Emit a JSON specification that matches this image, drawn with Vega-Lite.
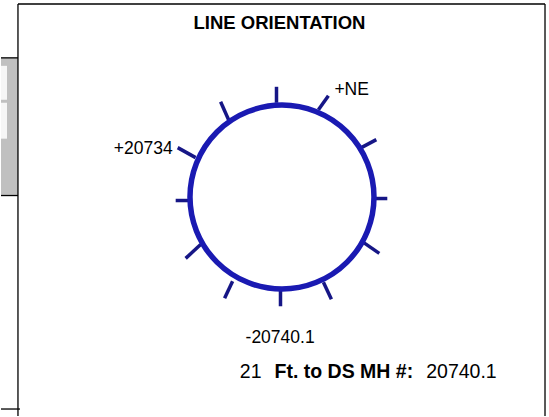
{
  "$schema": "https://vega.github.io/schema/vega-lite/v6.json",
  "width": 549,
  "height": 417,
  "padding": 0,
  "autosize": {"type": "fit", "contains": "padding"},
  "background": "white",
  "config": {"view": {"stroke": null}, "text": {"font": "Liberation Sans"}},
  "datasets": {
    "frame": [
      {"part": "left", "x": 17, "y": 4, "x2": 17, "y2": 417},
      {"part": "top", "x": 17, "y": 4, "x2": 545, "y2": 4},
      {"part": "right", "x": 545, "y": 4, "x2": 545, "y2": 417},
      {"part": "bottom stub", "x": 0, "y": 410, "x2": 19, "y2": 410},
      {"part": "panel top", "x": 0, "y": 58, "x2": 17, "y2": 58},
      {"part": "panel bottom", "x": 0, "y": 196, "x2": 17, "y2": 196}
    ],
    "panel": [{"x": 0, "x2": 17, "y": 58, "y2": 196}],
    "cells": [
      {"x": 0, "x2": 6, "y": 66, "y2": 100},
      {"x": 0, "x2": 6, "y": 103, "y2": 139}
    ],
    "ring": [{"cx": 281.5, "cy": 197.5}],
    "ticks": [
      {"angle": 0, "x": 276, "y": 103, "x2": 276, "y2": 87},
      {"angle": 30, "x": 318, "y": 110, "x2": 328, "y2": 96},
      {"angle": 60, "x": 361, "y": 148, "x2": 376, "y2": 140},
      {"angle": 90, "x": 373, "y": 199, "x2": 387, "y2": 199},
      {"angle": 120, "x": 363, "y": 243, "x2": 379, "y2": 254},
      {"angle": 150, "x": 323, "y": 283, "x2": 331, "y2": 300},
      {"angle": 180, "x": 280, "y": 290, "x2": 280, "y2": 307},
      {"angle": 210, "x": 232, "y": 282, "x2": 224, "y2": 299},
      {"angle": 240, "x": 200, "y": 245, "x2": 185, "y2": 259},
      {"angle": 270, "x": 190, "y": 201, "x2": 175, "y2": 201},
      {"angle": 300, "x": 195, "y": 158, "x2": 177, "y2": 148},
      {"angle": 330, "x": 228, "y": 120, "x2": 220, "y2": 102}
    ],
    "title": [{"text": "LINE ORIENTATION", "x": 279, "y": 29}],
    "leftLabels": [
      {"text": "+NE", "x": 334, "y": 95},
      {"text": "-20740.1", "x": 245, "y": 344}
    ],
    "rightLabels": [{"text": "+20734", "x": 172, "y": 154}],
    "footerNumber": [{"text": "21", "x": 261, "y": 379}],
    "footerValue": [{"text": "20740.1", "x": 426, "y": 379}],
    "footerBold": [{"text": "Ft. to DS MH #:", "x": 274, "y": 379}]
  },
  "layer": [
    {
      "data": {"name": "panel"},
      "mark": {"type": "rect", "color": "#c0c0c0"},
      "encoding": {
        "x": {"field": "x", "type": "quantitative", "scale": {"domain": [0, 549], "nice": false, "zero": false}, "axis": null},
        "x2": {"field": "x2"},
        "y": {"field": "y", "type": "quantitative", "scale": {"domain": [0, 417], "nice": false, "zero": false, "reverse": true}, "axis": null},
        "y2": {"field": "y2"}
      }
    },
    {
      "data": {"name": "cells"},
      "mark": {"type": "rect", "color": "#f6f6f6"},
      "encoding": {
        "x": {"field": "x", "type": "quantitative"},
        "x2": {"field": "x2"},
        "y": {"field": "y", "type": "quantitative"},
        "y2": {"field": "y2"}
      }
    },
    {
      "data": {"name": "frame"},
      "mark": {"type": "rule", "color": "black", "strokeWidth": 1.3},
      "encoding": {
        "x": {"field": "x", "type": "quantitative"},
        "x2": {"field": "x2"},
        "y": {"field": "y", "type": "quantitative"},
        "y2": {"field": "y2"}
      }
    },
    {
      "data": {"name": "ticks"},
      "mark": {"type": "rule", "color": "#161686", "strokeWidth": 3.5},
      "encoding": {
        "x": {"field": "x", "type": "quantitative"},
        "x2": {"field": "x2"},
        "y": {"field": "y", "type": "quantitative"},
        "y2": {"field": "y2"}
      }
    },
    {
      "data": {"name": "ring"},
      "mark": {"type": "point", "shape": "circle", "filled": false, "size": 33856, "stroke": "#1a1ab2", "strokeWidth": 5.5, "opacity": 1},
      "encoding": {
        "x": {"field": "cx", "type": "quantitative"},
        "y": {"field": "cy", "type": "quantitative"}
      }
    },
    {
      "data": {"name": "title"},
      "mark": {"type": "text", "fontSize": 18.5, "fontWeight": "bold", "align": "center", "baseline": "alphabetic", "color": "black"},
      "encoding": {
        "x": {"field": "x", "type": "quantitative"},
        "y": {"field": "y", "type": "quantitative"},
        "text": {"field": "text"}
      }
    },
    {
      "data": {"name": "leftLabels"},
      "mark": {"type": "text", "fontSize": 17.5, "align": "left", "baseline": "alphabetic", "color": "black"},
      "encoding": {
        "x": {"field": "x", "type": "quantitative"},
        "y": {"field": "y", "type": "quantitative"},
        "text": {"field": "text"}
      }
    },
    {
      "data": {"name": "rightLabels"},
      "mark": {"type": "text", "fontSize": 17.5, "align": "right", "baseline": "alphabetic", "color": "black"},
      "encoding": {
        "x": {"field": "x", "type": "quantitative"},
        "y": {"field": "y", "type": "quantitative"},
        "text": {"field": "text"}
      }
    },
    {
      "data": {"name": "footerNumber"},
      "mark": {"type": "text", "fontSize": 19.5, "align": "right", "baseline": "alphabetic", "color": "black"},
      "encoding": {
        "x": {"field": "x", "type": "quantitative"},
        "y": {"field": "y", "type": "quantitative"},
        "text": {"field": "text"}
      }
    },
    {
      "data": {"name": "footerValue"},
      "mark": {"type": "text", "fontSize": 19.5, "align": "left", "baseline": "alphabetic", "color": "black"},
      "encoding": {
        "x": {"field": "x", "type": "quantitative"},
        "y": {"field": "y", "type": "quantitative"},
        "text": {"field": "text"}
      }
    },
    {
      "data": {"name": "footerBold"},
      "mark": {"type": "text", "fontSize": 19.5, "fontWeight": "bold", "align": "left", "baseline": "alphabetic", "color": "black"},
      "encoding": {
        "x": {"field": "x", "type": "quantitative"},
        "y": {"field": "y", "type": "quantitative"},
        "text": {"field": "text"}
      }
    }
  ]
}
